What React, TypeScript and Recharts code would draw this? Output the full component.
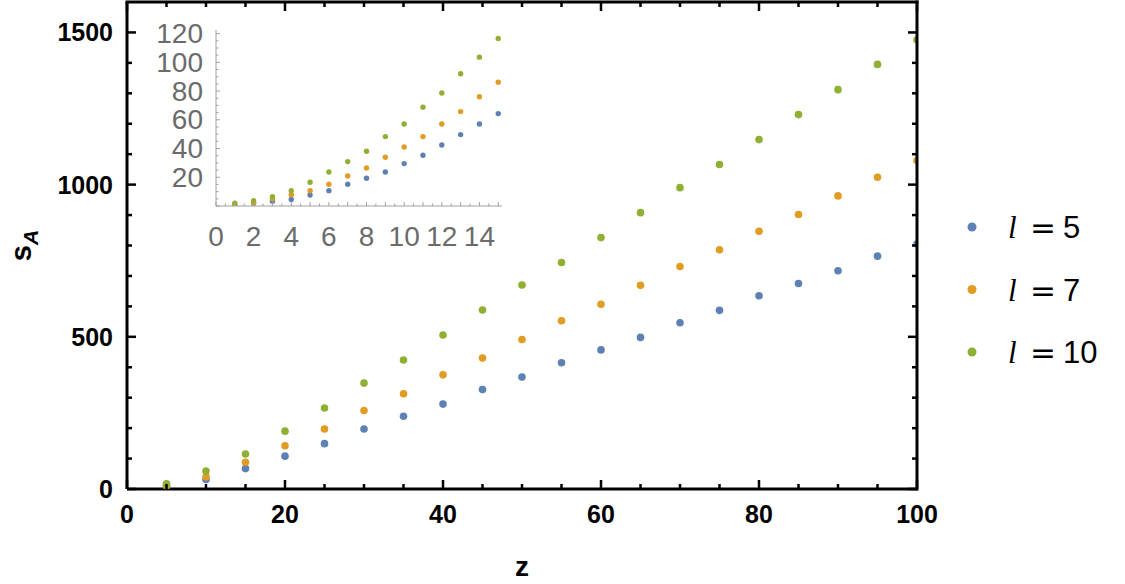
import React from 'react';
import { ScatterChart, Scatter, XAxis, YAxis, Legend } from 'recharts';

// ---------- data ----------
const zValues = [5, 10, 15, 20, 25, 30, 35, 40, 45, 50, 55, 60, 65, 70, 75, 80, 85, 90, 95, 100];
const sA_l5 = [9, 31, 67, 108, 149, 197, 239, 279, 327, 368, 415, 457, 498, 546, 587, 635, 675, 717, 765, 805];
const sA_l7 = [12, 40, 88, 142, 197, 258, 313, 375, 430, 491, 553, 607, 669, 731, 786, 847, 902, 963, 1024, 1079];
const sA_l10 = [17, 59, 115, 190, 266, 348, 424, 506, 588, 670, 744, 826, 908, 990, 1066, 1148, 1230, 1312, 1395, 1476];

const insetZ = [1, 2, 3, 4, 5, 6, 7, 8, 9, 10, 11, 12, 13, 14, 15];
const inset_l5 = [1, 1.9, 3.3, 4.6, 7.7, 10.7, 15.1, 19.3, 23.7, 29.5, 35.3, 42.5, 49.7, 57.1, 64.3];
const inset_l7 = [0.3, 2.3, 5.1, 7.9, 10.7, 15.1, 20.9, 26.5, 33.9, 41.1, 48.3, 57.1, 65.7, 76, 86.2];
const inset_l10 = [1.9, 3.7, 6.5, 10.7, 16.5, 23.7, 30.9, 38.1, 48.3, 57.1, 68.8, 78.7, 92, 103.6, 116.6];

const lValues = [5, 7, 10];
const colors = ['#5E81B5', '#E19C24', '#8FB032'];

const mainXTicks = [0, 5, 10, 15, 20, 25, 30, 35, 40, 45, 50, 55, 60, 65, 70, 75, 80, 85, 90, 95, 100];
const mainYTicks = [0, 100, 200, 300, 400, 500, 600, 700, 800, 900, 1000, 1100, 1200, 1300, 1400, 1500];
const insetXTicks = [0, 0.5, 1, 1.5, 2, 2.5, 3, 3.5, 4, 4.5, 5, 5.5, 6, 6.5, 7, 7.5, 8, 8.5, 9, 9.5, 10, 10.5, 11, 11.5, 12, 12.5, 13, 13.5, 14, 14.5, 15];
const insetYTicks = [0, 5, 10, 15, 20, 25, 30, 35, 40, 45, 50, 55, 60, 65, 70, 75, 80, 85, 90, 95, 100, 105, 110, 115, 120];

const toPts = (xs: number[], ys: number[]) => xs.map((x, i) => ({ x, y: ys[i] }));
const mainSeries = [sA_l5, sA_l7, sA_l10].map((ys) => toPts(zValues, ys));
const insetSeries = [inset_l5, inset_l7, inset_l10].map((ys) => toPts(insetZ, ys));

// ---------- layout ----------
const W = 1125;
const H = 584;
const FRAME = { left: 127, right: 917, top: 2, bottom: 489 };
const SANS = '"Liberation Sans", Arial, sans-serif';

function MainXTick(props: any) {
  const { x, payload, index } = props;
  const v = payload.value;
  const major = v % 20 === 0;
  const len = major ? 9 : 5;
  return (
    <g>
      {index === 0 && (
        <line x1={FRAME.left - 1.5} x2={FRAME.right + 1.5} y1={FRAME.top} y2={FRAME.top} stroke="#000" strokeWidth={3} />
      )}
      <line x1={x} x2={x} y1={FRAME.bottom} y2={FRAME.bottom - len} stroke="#000" strokeWidth={2.5} />
      <line x1={x} x2={x} y1={FRAME.top} y2={FRAME.top + len} stroke="#000" strokeWidth={2.5} />
      {major && (
        <text x={x} y={FRAME.bottom + 25} textAnchor="middle" dominantBaseline="central"
          fontFamily={SANS} fontWeight="bold" fontSize={25} fill="#000">{v}</text>
      )}
    </g>
  );
}

function MainYTick(props: any) {
  const { y, payload, index } = props;
  const v = payload.value;
  const major = v % 500 === 0;
  const len = major ? 9 : 5;
  return (
    <g>
      {index === 0 && (
        <line x1={FRAME.right} x2={FRAME.right} y1={FRAME.top - 1.5} y2={FRAME.bottom + 1.5} stroke="#000" strokeWidth={3} />
      )}
      <line x1={FRAME.left} x2={FRAME.left + len} y1={y} y2={y} stroke="#000" strokeWidth={2.5} />
      <line x1={FRAME.right} x2={FRAME.right - len} y1={y} y2={y} stroke="#000" strokeWidth={2.5} />
      {major && (
        <text x={FRAME.left - 14} y={y} textAnchor="end" dominantBaseline="central"
          fontFamily={SANS} fontWeight="bold" fontSize={25} fill="#000">{v}</text>
      )}
    </g>
  );
}

function InsetXTick(props: any) {
  const { x, y, payload } = props;
  const v = payload.value;
  const isInt = Number.isInteger(v);
  const labeled = isInt && v % 2 === 0;
  const len = isInt ? 4 : 2.5;
  return (
    <g>
      <line x1={x} x2={x} y1={y} y2={y - len} stroke="#a0a0a0" strokeWidth={1} />
      {labeled && (
        <text x={x} y={y + 30} textAnchor="middle" dominantBaseline="central"
          fontFamily={SANS} fontSize={28} fill="#6b6b6b">{v}</text>
      )}
    </g>
  );
}

function InsetYTick(props: any) {
  const { x, y, payload } = props;
  const v = payload.value;
  const labeled = v % 20 === 0 && v !== 0;
  const len = v % 20 === 0 ? 4 : 2.5;
  return (
    <g>
      <line x1={x} x2={x + len} y1={y} y2={y} stroke="#a0a0a0" strokeWidth={1} />
      {labeled && (
        <text x={x - 13} y={y} textAnchor="end" dominantBaseline="central"
          fontFamily={SANS} fontSize={28} fill="#6b6b6b">{v}</text>
      )}
    </g>
  );
}

function LegendContent() {
  return (
    <svg width={175} height={200} style={{ display: 'block', overflow: 'visible' }}>
      {lValues.map((l, i) => {
        const cy = 27 + i * 62.5;
        return (
          <g key={l}>
            <circle cx={22} cy={cy} r={4.5} fill={colors[i]} />
            <text x={58} y={cy + 11} fontSize={31} fill="#000">
              <tspan fontFamily='"Liberation Serif", serif' fontStyle="italic">l</tspan>
              <tspan x={80} fontFamily='"DejaVu Sans", sans-serif'>=</tspan>
              <tspan x={113} fontFamily={SANS}>{l}</tspan>
            </text>
          </g>
        );
      })}
    </svg>
  );
}

const dotShape = (color: string, r: number) => (p: any) => (
  <circle cx={p.cx} cy={p.cy} r={r} fill={color} />
);

export default function App() {
  const yAxisW = 60;
  const xAxisH = 30;
  const insetBox = { left: 140, top: 0, width: 380, height: 260 };
  const insetPlot = { left: 216, right: 502, top: 30, bottom: 206 };
  const insetYW = 40;
  const insetXH = 30;
  return (
    <div style={{ position: 'relative', width: W, height: H, background: '#fff' }}>
      <style>{'body{margin:0;background:#fff}'}</style>
      <ScatterChart
        width={W}
        height={H}
        margin={{
          top: FRAME.top,
          right: W - FRAME.right,
          bottom: H - FRAME.bottom - xAxisH,
          left: FRAME.left - yAxisW,
        }}
      >
        <XAxis type="number" dataKey="x" domain={[0, 100]} ticks={mainXTicks} interval={0}
          allowDataOverflow tickSize={0} tickMargin={0} height={xAxisH}
          axisLine={{ stroke: '#000', strokeWidth: 3 }} tickLine={false} tick={<MainXTick />}
          label={{
            content: (lp: any) => {
              const vb = lp.viewBox || { x: FRAME.left, width: FRAME.right - FRAME.left };
              return (
                <text x={vb.x + vb.width / 2} y={566} textAnchor="middle" dominantBaseline="central"
                  fontFamily={SANS} fontWeight="bold" fontSize={28} fill="#000">z</text>
              );
            },
          }}
        />
        <YAxis type="number" dataKey="y" domain={[0, 1600]} ticks={mainYTicks} interval={0}
          allowDataOverflow tickSize={0} tickMargin={0} width={yAxisW}
          axisLine={{ stroke: '#000', strokeWidth: 3 }} tickLine={false} tick={<MainYTick />}
          label={{
            content: () => (
              <text transform={`translate(31,${(FRAME.top + FRAME.bottom) / 2}) rotate(-90)`}
                textAnchor="middle" fontFamily={SANS} fontWeight="bold" fontSize={29} fill="#000">
                <tspan>s</tspan>
                <tspan dy={7} fontSize={21} fontStyle="italic">A</tspan>
              </text>
            ),
          }}
        />
        {mainSeries.map((d, i) => (
          <Scatter key={i} name={`l = ${lValues[i]}`} data={d} fill={colors[i]}
            isAnimationActive={false} shape={dotShape(colors[i], 3.8)} />
        ))}
        <Legend layout="vertical" align="center" verticalAlign="middle"
          wrapperStyle={{ left: 950, top: 200, width: 175, height: 200 }}
          content={<LegendContent />} />
      </ScatterChart>

      <div style={{ position: 'absolute', left: insetBox.left, top: insetBox.top }}>
        <ScatterChart
          width={insetBox.width}
          height={insetBox.height}
          margin={{
            top: insetPlot.top - insetBox.top,
            right: insetBox.left + insetBox.width - insetPlot.right,
            bottom: insetBox.top + insetBox.height - insetPlot.bottom - insetXH,
            left: insetPlot.left - insetBox.left - insetYW,
          }}
        >
          <XAxis type="number" dataKey="x" domain={[0, 15.2]} ticks={insetXTicks} interval={0}
            allowDataOverflow tickSize={0} tickMargin={0} height={insetXH}
            axisLine={{ stroke: '#a0a0a0', strokeWidth: 1 }} tickLine={false} tick={<InsetXTick />} />
          <YAxis type="number" dataKey="y" domain={[0, 122.5]} ticks={insetYTicks} interval={0}
            allowDataOverflow tickSize={0} tickMargin={0} width={insetYW}
            axisLine={{ stroke: '#a0a0a0', strokeWidth: 1 }} tickLine={false} tick={<InsetYTick />} />
          {insetSeries.map((d, i) => (
            <Scatter key={i} data={d} fill={colors[i]} isAnimationActive={false}
              shape={dotShape(colors[i], 2.7)} />
          ))}
        </ScatterChart>
      </div>
    </div>
  );
}
